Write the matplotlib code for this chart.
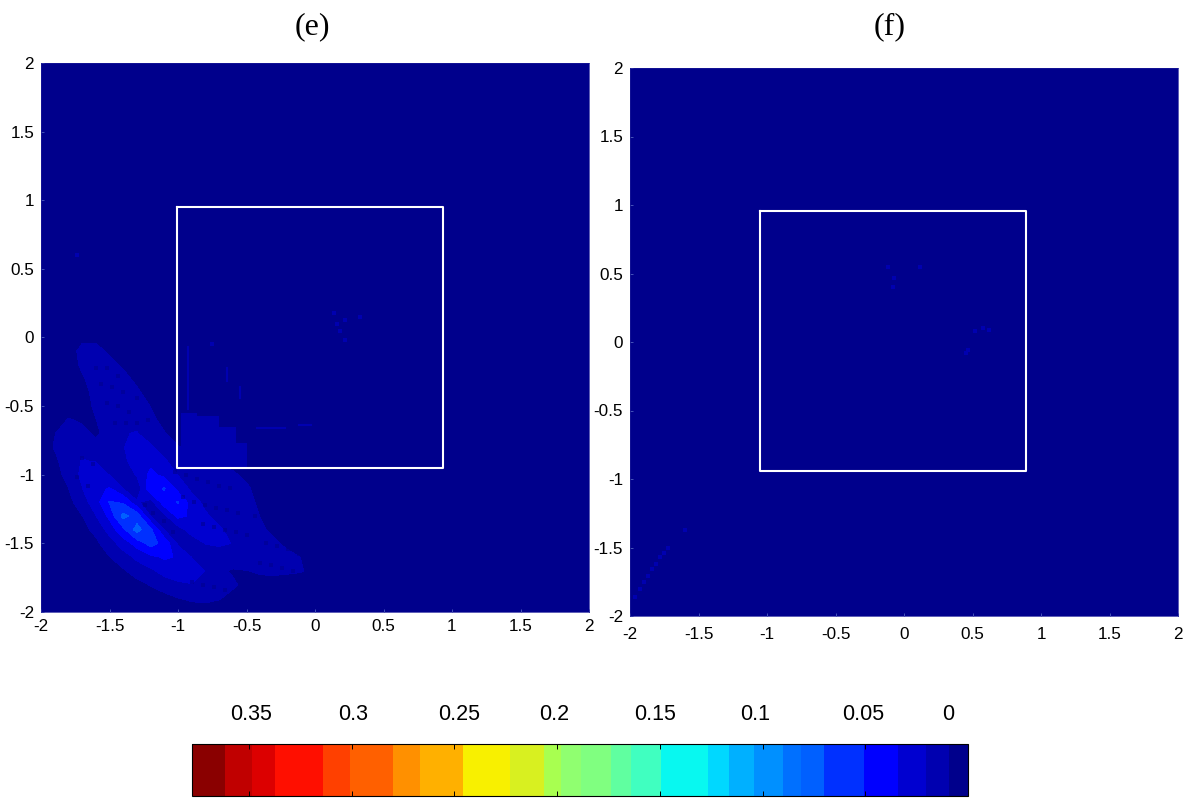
import numpy as np
import matplotlib
matplotlib.use('Agg')
import matplotlib.pyplot as plt
from matplotlib.cm import ScalarMappable
from matplotlib.colors import BoundaryNorm, ListedColormap

W, H = 1190, 798
plt.rcParams['font.family'] = ['Liberation Sans', 'DejaVu Sans']

# values, in thousandths, rows top to bottom
grid_x = [-2.0, -1.9, -1.8, -1.7, -1.6, -1.5, -1.4, -1.3, -1.2, -1.1, -1.0,
          -0.9, -0.8, -0.7, -0.6, -0.5, -0.4, -0.3, -0.2, -0.1, 0.0, 0.1]
grid_y = [0.0, -0.1, -0.2, -0.3, -0.4, -0.5, -0.6, -0.7, -0.8, -0.9, -1.0,
          -1.1, -1.2, -1.3, -1.4, -1.5, -1.6, -1.7, -1.8, -1.9, -2.0]
panel_e = [
    [4, 4, 4, 7, 7, 5, 4, 4, 4, 4, 4, 4, 4, 4, 4, 4, 4, 4, 4, 4, 4, 4],
    [4, 4, 5, 12, 12, 8, 4, 4, 4, 4, 4, 4, 4, 4, 4, 4, 4, 4, 4, 4, 4, 4],
    [4, 4, 4, 11, 14, 12, 8, 4, 4, 4, 4, 4, 4, 4, 4, 4, 4, 4, 4, 4, 4, 4],
    [4, 4, 4, 8, 14, 14, 12, 7, 4, 4, 4, 4, 4, 4, 4, 4, 4, 4, 4, 4, 4, 4],
    [4, 4, 4, 5, 13, 15, 14, 11, 5, 4, 4, 4, 4, 4, 4, 4, 4, 4, 4, 4, 4, 4],
    [4, 4, 4, 5, 11, 15, 15, 14, 9, 4, 4, 4, 4, 4, 4, 4, 4, 4, 4, 4, 4, 4],
    [4, 4, 10, 8, 9, 14, 18, 18, 12, 6, 4, 4, 4, 4, 4, 4, 4, 4, 4, 4, 4, 4],
    [4, 9, 14, 12, 8, 12, 20, 21, 16, 10, 5, 4, 4, 4, 4, 4, 4, 4, 4, 4, 4, 4],
    [4, 10, 16, 18, 12, 10, 20, 25, 22, 15, 10, 6, 4, 4, 4, 4, 4, 4, 4, 4, 4, 4],
    [4, 7, 15, 21, 20, 11, 16, 30, 30, 22, 15, 13, 10, 8, 5, 4, 4, 4, 4, 4, 4, 4],
    [4, 5, 13, 23, 27, 20, 10, 22, 38, 30, 20, 15, 14, 13, 11, 7, 4, 4, 4, 4, 4, 4],
    [4, 4, 9, 20, 31, 35, 20, 11, 44, 52, 28, 18, 15, 14, 14, 11, 5, 4, 4, 4, 4, 4],
    [4, 4, 6, 15, 27, 52, 48, 22, 15, 42, 52, 25, 18, 15, 14, 13, 7, 4, 4, 4, 4, 4],
    [4, 4, 4, 9, 20, 38, 76, 60, 20, 17, 38, 32, 22, 17, 15, 14, 9, 5, 4, 4, 4, 4],
    [4, 4, 4, 6, 12, 25, 46, 78, 54, 20, 14, 27, 26, 22, 17, 14, 11, 7, 4, 4, 4, 4],
    [4, 4, 4, 4, 7, 15, 26, 40, 58, 44, 18, 12, 21, 23, 20, 16, 13, 11, 7, 4, 4, 4],
    [4, 4, 4, 4, 5, 9, 15, 23, 30, 36, 33, 20, 11, 12, 17, 18, 15, 13, 12, 9, 5, 4],
    [4, 4, 4, 4, 4, 5, 8, 14, 18, 25, 28, 27, 20, 11, 8, 9, 11, 12, 11, 10, 6, 4],
    [4, 4, 4, 4, 4, 4, 4, 6, 10, 14, 18, 20, 18, 14, 11, 6, 5, 4, 4, 4, 4, 4],
    [4, 4, 4, 4, 4, 4, 4, 4, 4, 6, 9, 11, 12, 10, 6, 4, 4, 4, 4, 4, 4, 4],
    [4, 4, 4, 4, 4, 4, 4, 4, 4, 4, 4, 4, 4, 4, 4, 4, 4, 4, 4, 4, 4, 4],
]

# faint patch inside the white box of (e)
patch_x = [-0.98, -0.86, -0.86, -0.70, -0.70, -0.58, -0.58, -0.50, -0.50, -0.98]
patch_y = [-0.55, -0.55, -0.57, -0.57, -0.65, -0.65, -0.77, -0.77, -0.95, -0.95]
patch_val = 12

# thin faint streaks in (e): x0, x1, y0, y1
streak_x0 = [-0.93, -0.64, -0.55, -0.42, -0.12]
streak_x1 = [-0.93, -0.64, -0.55, -0.22, -0.03]
streak_y0 = [-0.07, -0.22, -0.36, -0.66, -0.64]
streak_y1 = [-0.52, -0.32, -0.44, -0.66, -0.64]

# small spots
spots_e_x = [0.14, 0.16, 0.18, 0.22, 0.33, 0.22, -1.74, -0.75]
spots_e_y = [0.18, 0.1, 0.05, 0.13, 0.15, -0.02, 0.6, -0.05]
spots_f_x = [-0.12, -0.07, -0.08, 0.12, 0.45, 0.58, 0.62, 0.47, -1.96, -1.93, -1.90, -1.87,
             -1.84, -1.81, -1.78, -1.75, -1.72, -1.6, 0.52]
spots_f_y = [0.55, 0.47, 0.40, 0.55, -0.08, 0.10, 0.09, -0.06, -1.86, -1.80, -1.75, -1.71,
             -1.66, -1.62, -1.57, -1.54, -1.50, -1.37, 0.08]

# dark specks over the lobes of (e)
dots_x = [-1.60, -1.52, -1.44, -1.56, -1.48, -1.40, -1.52, -1.44, -1.36, -1.30, -1.46, -1.38,
          -1.30, -1.22, -1.70, -1.62, -1.74, -1.66, -1.02, -0.94, -0.86, -0.78, -0.70, -0.62,
          -0.96, -0.88, -0.80, -0.72, -0.64, -0.56, -0.82, -0.74, -0.66, -0.58, -0.50, -0.44,
          -0.36, -0.28, -0.20, -0.12, -0.40, -0.32, -0.24, -0.16, -0.90, -0.82, -0.74, -0.66,
          -1.24, -1.18, -1.10, -1.04]
dots_y = [-0.22, -0.22, -0.28, -0.34, -0.36, -0.40, -0.48, -0.50, -0.54, -0.44, -0.62, -0.62,
          -0.62, -0.60, -0.88, -0.92, -1.02, -1.08, -0.98, -1.00, -1.03, -1.05, -1.08, -1.10,
          -1.16, -1.20, -1.22, -1.24, -1.26, -1.28, -1.36, -1.38, -1.40, -1.42, -1.44, -1.30,
          -1.50, -1.52, -1.54, -1.58, -1.64, -1.66, -1.68, -1.70, -1.78, -1.80, -1.82, -1.84,
          -1.22, -1.28, -1.34, -1.42]

# colour bar bands, low to high
band_edges = [0, 0.0093, 0.0205, 0.0341, 0.0507, 0.0702, 0.0814, 0.0902, 0.1043, 0.1165,
              0.1267, 0.1496, 0.1642, 0.174, 0.1886, 0.1983, 0.2066, 0.2227, 0.2456, 0.2666,
              0.2797, 0.3007, 0.3138, 0.3372, 0.3484, 0.3616, 0.3777]
band_colors = ['#00008c', '#0000b0', '#0000d0', '#0000ff', '#0030ff', '#0060ff', '#0070ff',
               '#0090ff', '#00b0ff', '#00d8ff', '#08f8f0', '#40ffc0', '#60ffa0', '#80ff80',
               '#90ff70', '#a8ff50', '#d8f020', '#f8f000', '#ffb000', '#ff9000', '#ff6000',
               '#ff4000', '#ff0f00', '#dc0000', '#c00000', '#8a0000']

cbar_ticks = [0.35, 0.3, 0.25, 0.2, 0.15, 0.1, 0.05, 0]
cbar_labels = ['0.35', '0.3', '0.25', '0.2', '0.15', '0.1', '0.05', '0']
cbar_label_px = [251, 353, 459, 554, 655, 755, 863, 948]
axis_ticks = [-2, -1.5, -1, -0.5, 0, 0.5, 1, 1.5, 2]
axis_labels = ['-2', '-1.5', '-1', '-0.5', '0', '0.5', '1', '1.5', '2']

cmap = ListedColormap(band_colors)
norm = BoundaryNorm(band_edges, len(band_colors))


def px_axes(fig, x0, y0, x1, y1):
    return fig.add_axes([x0 / W, 1 - y1 / H, (x1 - x0) / W, (y1 - y0) / H])


def setup_panel(ax, title, title_px, box, xpad):
    ax.set_facecolor(band_colors[0])
    ax.set_xlim(-2, 2)
    ax.set_ylim(-2, 2)
    ax.set_xticks(axis_ticks)
    ax.set_yticks(axis_ticks)
    ax.set_xticklabels(axis_labels)
    ax.set_yticklabels(axis_labels)
    ax.tick_params(axis='x', length=2, width=0.6, direction='in', color='#5060c0',
                   labelsize=12.3, pad=xpad)
    ax.tick_params(axis='y', length=2, width=0.6, direction='in', color='#5060c0',
                   labelsize=12.3, pad=5)
    for s in ax.spines.values():
        s.set_color('#1a1a98')
        s.set_linewidth(0.5)
    ax.plot([box[0], box[1], box[1], box[0], box[0]],
            [box[2], box[2], box[3], box[3], box[2]], color='white', lw=1.5, zorder=5)
    fig.text(title_px / W, 1 - 27 / H, title, family=['Liberation Serif'], fontsize=23,
             ha='center', va='center')


fig = plt.figure(figsize=(W / 100, H / 100), dpi=100)

ax1 = px_axes(fig, 41, 63, 589, 612)
values = np.array(panel_e) / 1000
ax1.contourf(grid_x, grid_y, values, levels=band_edges, cmap=cmap, norm=norm, zorder=1)
ax1.scatter(dots_x, dots_y, color=band_colors[0], alpha=0.55, s=7, marker='s', linewidths=0, zorder=2)
ax1.fill(patch_x, patch_y, color=cmap(norm(patch_val / 1000)), lw=0, zorder=2)
for x0, x1, y0, y1 in zip(streak_x0, streak_x1, streak_y0, streak_y1):
    ax1.plot([x0, x1], [y0, y1], color=band_colors[1], lw=1.5, zorder=2)
ax1.scatter(spots_e_x, spots_e_y, color=band_colors[1], s=8, marker='s', linewidths=0, zorder=2)
setup_panel(ax1, '(e)', 312, (-1.007, 0.934, 0.951, -0.951), 5)

ax2 = px_axes(fig, 630, 68, 1178, 616)
ax2.scatter(spots_f_x, spots_f_y, color=band_colors[1], s=9, marker='s', linewidths=0, zorder=2)
setup_panel(ax2, '(f)', 890, (-1.051, 0.89, 0.958, -0.94), 8)

cax = px_axes(fig, 192, 744, 968, 796)
cb = fig.colorbar(ScalarMappable(norm=norm, cmap=cmap), cax=cax, orientation='horizontal',
                  spacing='proportional', drawedges=False)
cax.set_xlim(band_edges[-1], 0)
cax.set_xticks(cbar_ticks)
cax.set_xticklabels([])
cax.minorticks_off()
cax.tick_params(axis='x', which='major', direction='in', top=True, bottom=True, length=3.5,
                width=0.7, color='black')
cb.outline.set_linewidth(0.8)
for px, lab in zip(cbar_label_px, cbar_labels):
    fig.text(px / W, 1 - 715 / H, lab, fontsize=15.5, ha='center', va='center')

fig.savefig('out.png', dpi=100)
